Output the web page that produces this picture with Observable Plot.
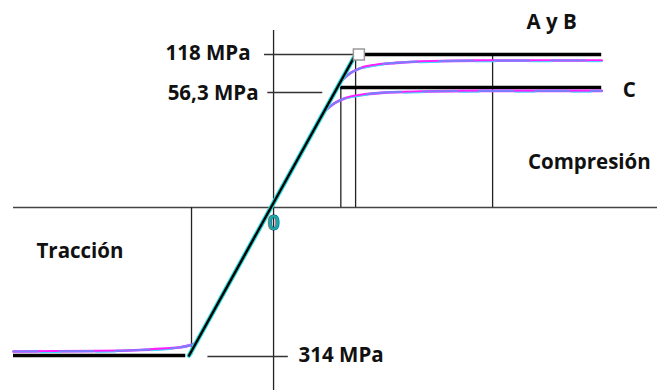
<!DOCTYPE html>
<html>
<head>
<meta charset="utf-8">
<script src="https://cdn.jsdelivr.net/npm/d3@7"></script>
<script src="https://cdn.jsdelivr.net/npm/@observablehq/plot@0.6"></script>
<style>
  html, body { margin: 0; padding: 0; background: #fff; }
  svg { display: block; }
</style>
</head>
<body>
<div id="chart"></div>
<script>
// Stress levels (MPa) used by the schematic piecewise stress axis
const stressStops = [-314, 0, 56.3, 118];

// Yield stresses and their labels
const yieldStress = [118, 56.3, -314];
const yieldLabels = ["118 MPa", "56,3 MPa", "314 MPa"];

// Elastic branch (strain in schematic units, stress in MPa)
const elasticStrain = [-1.03, 1.0];
const elasticStress = [-314, 118];

// Ideal plastic plateaus
const plateauStress = [118, 56.3, -314];
const plateauStart = [1.0, 0.82, -3.17];
const plateauEnd = [4.0, 4.0, -1.07];

// Reference strains (vertical guide lines) with their stress extents
const guideStrain = [-1.0, 0.82, 1.0, 2.67];
const guideTop = [0, 56.3, 118, 118];
const guideBottom = [-314, 0, 0, 0];

// Real curves
const curveABStrain = [0.83, 0.94, 1.06, 1.24, 1.49, 1.92, 2.52, 4.0];
const curveABStress = [69.4, 83.5, 92.5, 98.5, 102.3, 105.3, 106.6, 106.8];
const curveCStrain = [0.63, 0.76, 0.88, 1.06, 1.31, 1.79, 2.52, 4.0];
const curveCStress = [45.5, 49.3, 51.4, 52.8, 53.8, 54.4, 54.7, 54.7];
const curveTStrain = [-3.17, -2.11, -1.62, -1.32, -1.13, -1.02, -0.95];
const curveTStress = [-305.5, -304.5, -302.3, -299.5, -296.5, -292.5, -288.0];

// Region / series labels
const seriesLabels = ["A y B", "C"];
const regionLabels = ["Compresión", "Tracción"];

const zip = (xs, ys) => xs.map((x, i) => ({x, y: ys[i]}));
const elastic = zip(elasticStrain, elasticStress);
const plateaus = plateauStress.map((y, i) => ({x1: plateauStart[i], x2: plateauEnd[i], y}));
const guides = guideStrain.map((x, i) => ({x, y1: guideBottom[i], y2: guideTop[i]}));
const curves = [
  ...zip(curveABStrain, curveABStress).map(d => ({...d, s: "AB"})),
  ...zip(curveCStrain, curveCStress).map(d => ({...d, s: "C"})),
  ...zip(curveTStrain, curveTStress).map(d => ({...d, s: "T"}))
];
const tickLines = [
  {x1: -0.11, x2: 1.04, y: yieldStress[0], dy: 0},
  {x1: -0.07, x2: 0.6, y: yieldStress[1], dy: 5},
  {x1: -0.8, x2: 0.18, y: yieldStress[2], dy: 1}
];

const font = "Open Sans";
const txt = {fontFamily: font, fontWeight: "bold", fontSize: 20.5, fill: "#111", letterSpacing: "0.5px"};

const chart = Plot.plot({
  width: 657,
  height: 390,
  marginLeft: 13,
  marginRight: 0,
  marginTop: 30,
  marginBottom: 0,
  x: {domain: [-3.17, 4.68], range: [13, 657], axis: null},
  y: {type: "linear", domain: stressStops, range: [355, 207, 87, 54], axis: null},
  marks: [
    // axes
    Plot.ruleY([0], {stroke: "#444", strokeWidth: 1.6}),
    Plot.ruleX([0], {stroke: "#222", strokeWidth: 1.3}),
    // guide lines
    Plot.ruleX(guides, {x: "x", y1: "y1", y2: "y2", stroke: "#222", strokeWidth: 1.3}),
    // label ticks
    Plot.ruleY(tickLines.filter(d => d.dy === 0), {x1: "x1", x2: "x2", y: "y", stroke: "#333", strokeWidth: 1.3}),
    Plot.ruleY(tickLines.filter(d => d.dy === 5), {x1: "x1", x2: "x2", y: "y", dy: 5, stroke: "#333", strokeWidth: 1.3}),
    Plot.ruleY(tickLines.filter(d => d.dy === 1), {x1: "x1", x2: "x2", y: "y", dy: 1, stroke: "#333", strokeWidth: 1.3}),
    // ideal plateaus
    Plot.ruleY(plateaus, {x1: "x1", x2: "x2", y: "y", stroke: "#000", strokeWidth: 3.6}),
    // real curves (magenta + blue overlay)
    Plot.line(curves, {x: "x", y: "y", z: "s", curve: "monotone-x", stroke: "#ff20ff", strokeWidth: 2.6}),
    Plot.line(curves, {x: "x", y: "y", z: "s", curve: "monotone-x", stroke: "#7d7cff", strokeWidth: 2.2, strokeDasharray: "34,22", strokeDashoffset: 10}),
    Plot.line(curves, {x: "x", y: "y", z: "s", curve: "monotone-x", dy: 1.2, stroke: "#2fe0ff", strokeWidth: 1.0, strokeDasharray: "20,36", strokeDashoffset: 30}),
    // elastic branch
    Plot.line(elastic, {x: "x", y: "y", stroke: "#20d8d8", strokeWidth: 4.6}),
    Plot.line(elastic, {x: "x", y: "y", stroke: "#000", strokeWidth: 2.4}),
    // yield point marker
    Plot.dot([{x: 1.04, y: yieldStress[0]}], {x: "x", y: "y", symbol: "square", r: 6.2, fill: "#fff", stroke: "#999", strokeWidth: 1.5}),
    // labels
    Plot.text([{x: 0, y: yieldStress[0], t: yieldLabels[0]}], {x: "x", y: "y", text: "t", textAnchor: "end", dx: -23, dy: -1, ...txt}),
    Plot.text([{x: 0, y: yieldStress[1], t: yieldLabels[1]}], {x: "x", y: "y", text: "t", textAnchor: "end", dx: -15, dy: 6, ...txt}),
    Plot.text([{x: 0, y: yieldStress[2], t: yieldLabels[2]}], {x: "x", y: "y", text: "t", textAnchor: "start", dx: 25, dy: 0, ...txt}),
    Plot.text([{x: 3.39, y: plateauStress[0], t: seriesLabels[0]}], {x: "x", y: "y", text: "t", dy: -32, ...txt}),
    Plot.text([{x: 4.0, y: plateauStress[1], t: seriesLabels[1]}], {x: "x", y: "y", text: "t", textAnchor: "start", dx: 21, dy: 3, ...txt}),
    Plot.text([{x: 3.1, y: 21.1, t: regionLabels[0]}], {x: "x", y: "y", text: "t", textAnchor: "start", ...txt}),
    Plot.text([{x: -2.89, y: -93.4, t: regionLabels[1]}], {x: "x", y: "y", text: "t", textAnchor: "start", ...txt}),
    // origin label
    Plot.text([{x: 0, y: 0, t: "0"}], {x: "x", y: "y", text: "t", dy: 15, fontFamily: "Liberation Sans Narrow, Liberation Sans", fontWeight: "bold", fontSize: 22, fill: "#1aa8a0", stroke: "#14286e", strokeWidth: 0.9})
  ]
});
document.getElementById("chart").appendChild(chart);
</script>
</body>
</html>
